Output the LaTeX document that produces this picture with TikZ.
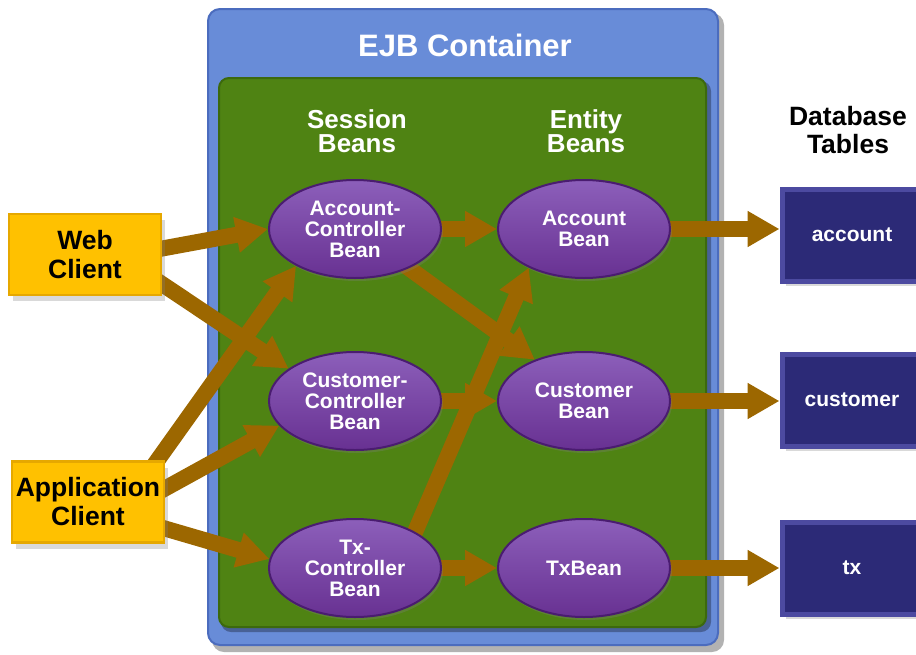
\documentclass[tikz,border=0pt]{standalone}
\usepackage{fontspec}
\setmainfont{Liberation Sans}
\usetikzlibrary{positioning,shapes.geometric,arrows.meta,shadows}

\definecolor{ejbblue}{HTML}{688CD8}
\definecolor{ejbedge}{HTML}{4B6CBE}
\definecolor{beangreen}{HTML}{4F8313}
\definecolor{greenedge}{HTML}{3C690D}
\definecolor{beanbase}{HTML}{683192}
\definecolor{beanhi}{HTML}{8C5FBA}
\definecolor{beanedge}{HTML}{4A1C70}
\definecolor{flowbrown}{HTML}{9C6700}
\definecolor{clientfill}{HTML}{FFC100}
\definecolor{clientedge}{HTML}{E6A800}
\definecolor{dbfill}{HTML}{2C2A77}
\definecolor{dbedge}{HTML}{4C4AA0}

\pgfdeclarelayer{back}
\pgfdeclarelayer{mid}
\pgfsetlayers{back,mid,main}

\tikzset{
  heading/.style={font=\bfseries\fontsize{26pt}{24pt}\selectfont, align=center, inner sep=0pt},
  client/.style={rectangle, fill=clientfill, draw=clientedge, line width=2.5pt,
    minimum width=152pt, minimum height=81pt, inner sep=0pt, align=center,
    font=\bfseries\fontsize{26.5pt}{29pt}\selectfont,
    drop shadow={shadow xshift=4pt, shadow yshift=-6pt, opacity=.3}},
  bean/.style={ellipse, draw=beanedge, line width=2pt, top color=beanhi, middle color=beanbase,
    bottom color=beanbase, minimum width=172pt, minimum height=98pt, inner sep=0pt,
    align=center, text=white, font=\bfseries\fontsize{21pt}{21pt}\selectfont,
    drop shadow={shadow xshift=2pt, shadow yshift=-3pt, opacity=.3}},
  dbtable/.style={rectangle, fill=dbfill, draw=dbedge, line width=5pt,
    minimum width=140pt, minimum height=92pt, inner sep=0pt, text=white,
    font=\bfseries\fontsize{21pt}{21pt}\selectfont,
    drop shadow={shadow xshift=4pt, shadow yshift=-5pt, opacity=.3}},
  flow/.style={draw=flowbrown, line width=16pt, shorten <=-12pt,
    -{Triangle[width=34pt,length=32pt]}}
}

\begin{document}
\begin{tikzpicture}[x=1pt,y=-1pt]
	\useasboundingbox (0,0) rectangle (916,654);
	\clip (0,0) rectangle (916,654);

	% EJB container and the inner bean area
	\begin{pgfonlayer}{back}
		\fill[black,opacity=.3,rounded corners=12pt] (212,13) rectangle (724,652);
		\draw[ejbedge,fill=ejbblue,line width=2pt,rounded corners=12pt] (208,9) rectangle (718,645);
		\fill[black,opacity=.3,rounded corners=10pt] (221,81) rectangle (711,632);
		\draw[greenedge,fill=beangreen,line width=2pt,rounded corners=10pt] (219,78) rectangle (706,627);
	\end{pgfonlayer}

	% headings
	\node[heading,text=white,font=\bfseries\fontsize{31pt}{31pt}\selectfont] (ejb) at (465,45) {EJB Container};
	\node[heading,text=white] (sess) at (357,131) {Session\\Beans};
	\node[heading,text=white] (ent) at (586,131) {Entity\\Beans};
	\node[heading,font=\bfseries\fontsize{26.5pt}{28pt}\selectfont] (dbt) at (848,130) {Database\\Tables};

	% clients
	\node[client] (web) at (85,254.5) {Web\\Client};
	\node[client] (app) at (88,502) {Application\\Client};

	% session beans
	\node[bean] (acc) at (355,229) {Account-\\Controller\\Bean};
	\node[bean] (cc) at (355,401) {Customer-\\Controller\\Bean};
	\node[bean] (tc) at (355,568) {Tx-\\Controller\\Bean};

	% entity beans
	\node[bean] (ab) at (584,229) {Account\\Bean};
	\node[bean] (cb) at (584,401) {Customer\\Bean};
	\node[bean] (xb) at (584,568) {TxBean};

	% database tables (cut by the right edge)
	\node[dbtable] (tA) at (852,235) {account};
	\node[dbtable] (tC) at (852,400) {customer};
	\node[dbtable] (tT) at (852,568) {tx};

	% calls between the parts
	\begin{pgfonlayer}{mid}
		\draw[flow] ([yshift=6pt]web.east) -- (acc.west);
		\draw[flow] (web.-21.5) -- (cc.154);
		\draw[flow] (app.31) -- (acc.212);
		\draw[flow] (app.10) -- (cc.198);
		\draw[flow] (app.-19) -- (tc.174);
		\draw[flow] (acc) -- (ab.west);
		\draw[flow] (acc) -- (cb.140);
		\draw[flow] (cc) -- (cb.west);
		\draw[flow] (tc.31) -- (ab.215);
		\draw[flow] (tc) -- (xb.west);
		\draw[flow] (ab) -- (ab -| tA.west);
		\draw[flow] (cb) -- (cb -| tC.west);
		\draw[flow] (xb) -- (xb -| tT.west);
	\end{pgfonlayer}
\end{tikzpicture}
\end{document}
